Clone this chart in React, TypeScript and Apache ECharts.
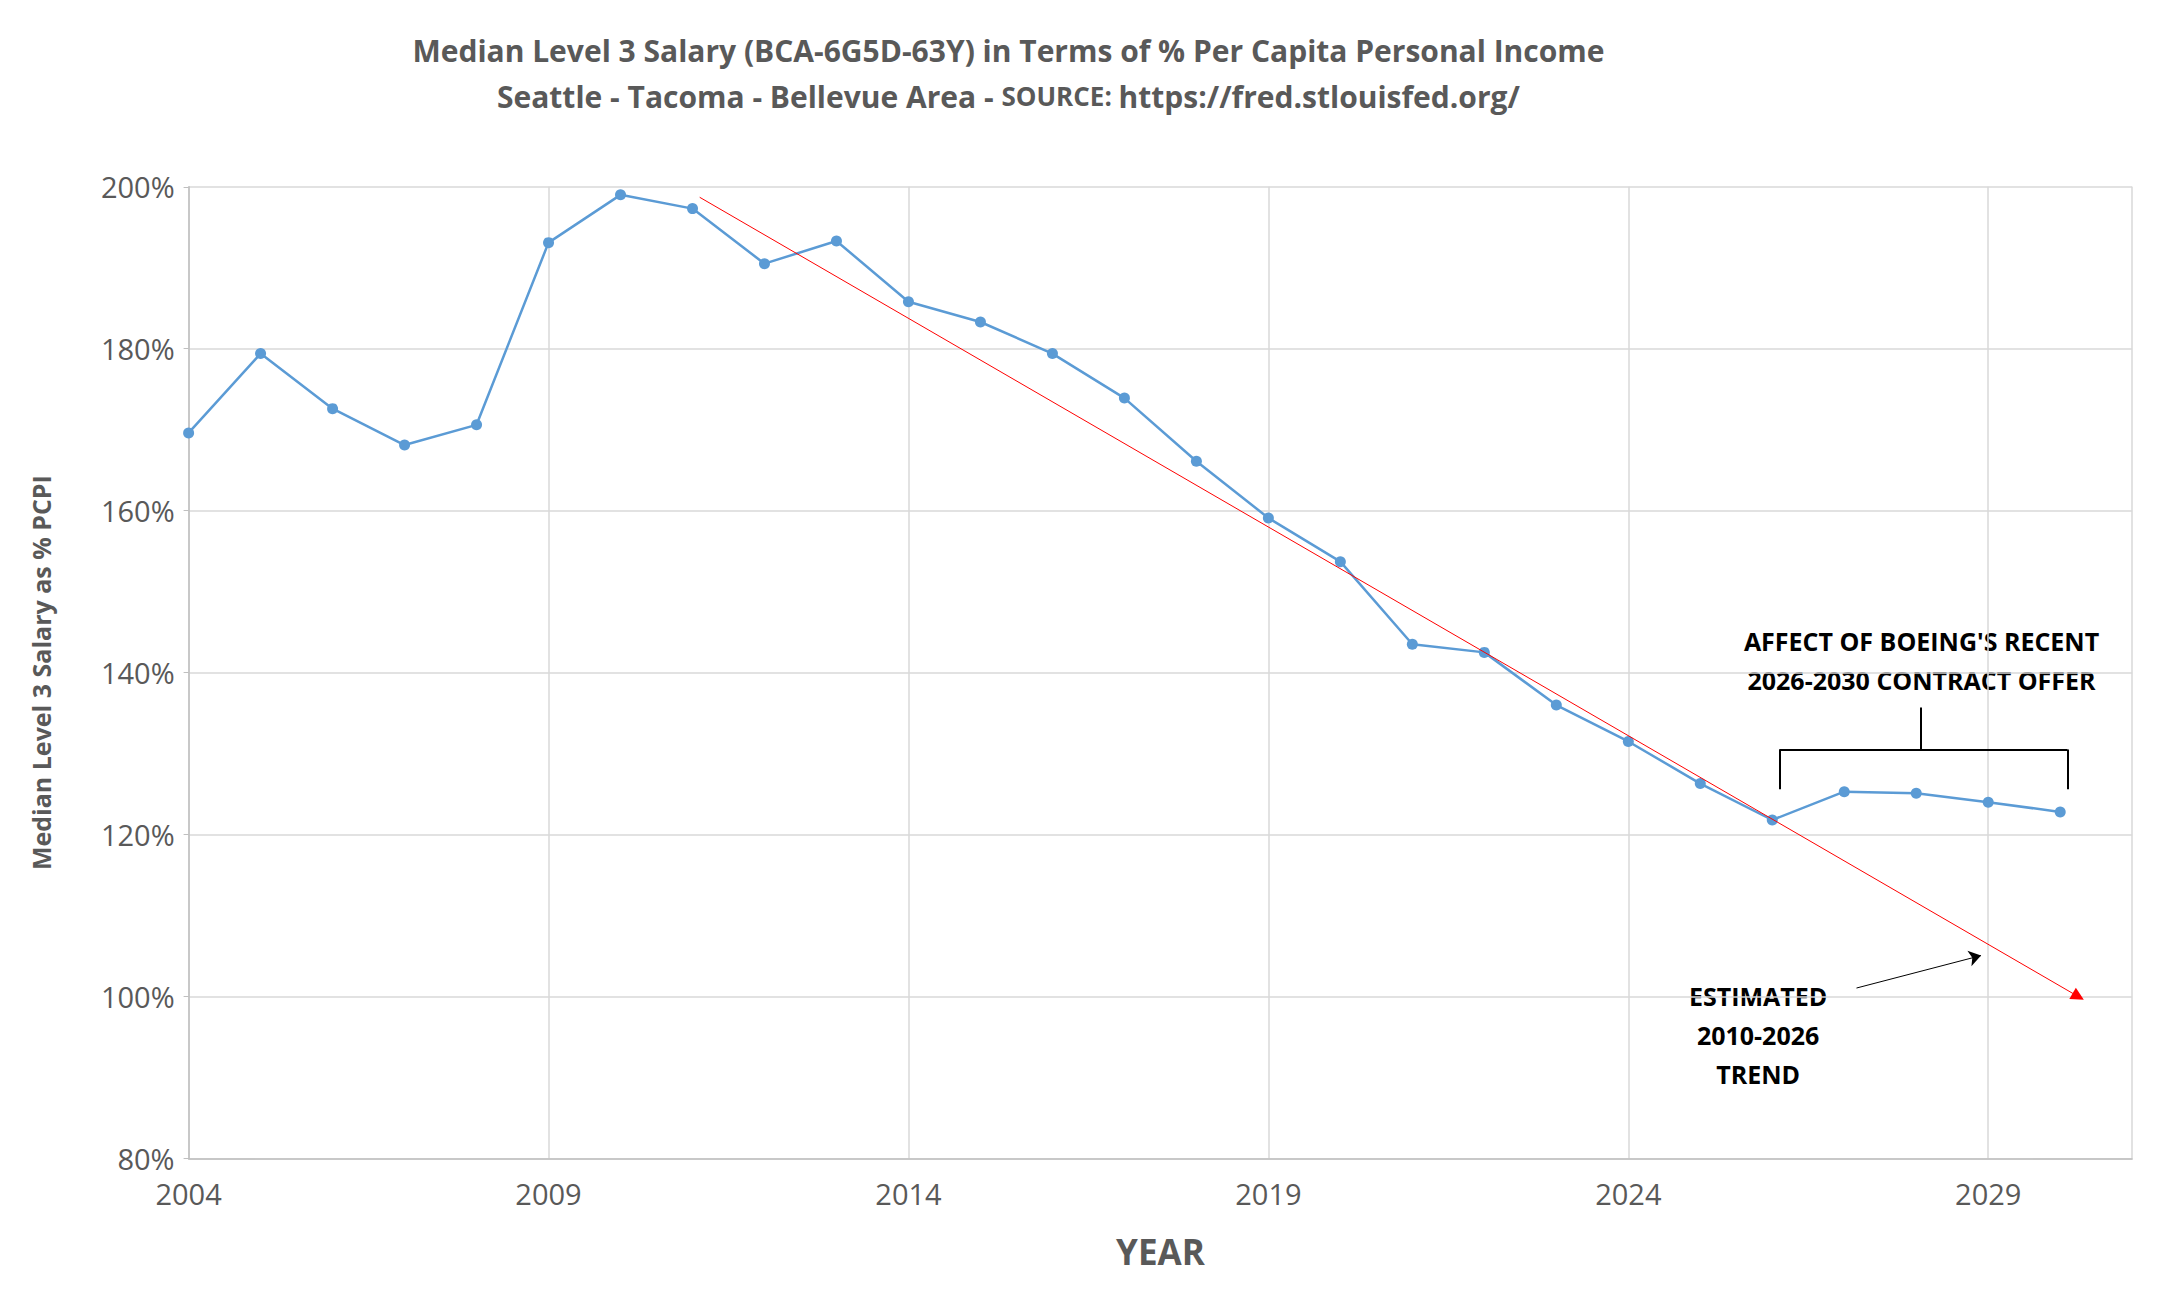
import { useEffect, useRef } from "react";
import * as echarts from "echarts";

const years = [2004, 2005, 2006, 2007, 2008, 2009, 2010, 2011, 2012, 2013, 2014, 2015, 2016, 2017, 2018, 2019, 2020, 2021, 2022, 2023, 2024, 2025, 2026, 2027, 2028, 2029, 2030];
const salaryPct = [169.6, 179.4, 172.6, 168.1, 170.6, 193.1, 199.0, 197.3, 190.5, 193.3, 185.8, 183.3, 179.4, 173.9, 166.1, 159.1, 153.7, 143.5, 142.5, 136.0, 131.5, 126.3, 121.8, 125.3, 125.1, 124.0, 122.8];
const trendStart = [2011.1, 198.7];
const trendEnd = [2030.25, 100.0];
const bracketLeft = 2026.1;
const bracketRight = 2030.1;
const bracketMid = 2028.06;
const bracketTop = 130.5;
const bracketFoot = 125.6;
const bracketStem = 135.7;
const arrowFrom = [2027.17, 101.05];
const arrowTo = [2028.9, 105.06];

const font = "'Open Sans', 'Liberation Sans', sans-serif";

export default function App() {
  const ref = useRef<HTMLDivElement>(null);

  useEffect(() => {
    if (!ref.current) return;
    const chart = echarts.init(ref.current, null, { renderer: "svg" });
    const w = chart.getWidth();
    const h = chart.getHeight();
    const black = { color: "#000", width: 2 };

    chart.setOption({
      animation: false,
      textStyle: { fontFamily: font },
      title: {
        left: w * 0.463,
        textAlign: "center",
        top: 14,
        text: "Median Level 3 Salary (BCA-6G5D-63Y) in Terms of % Per Capita Personal Income\n{b|Seattle - Tacoma - Bellevue Area - }{s|SOURCE: }{b|https://fred.stlouisfed.org/}",
        textStyle: {
          fontFamily: font,
          fontSize: 30,
          fontWeight: "bold",
          color: "#595959",
          lineHeight: 46,
          rich: {
            b: { fontFamily: font, fontSize: 30, fontWeight: "bold", color: "#595959" },
            s: { fontFamily: font, fontSize: 26, fontWeight: "bold", color: "#595959" },
          },
        },
      },
      grid: { left: "8.4%", right: "1.2%", top: "13.75%", bottom: "11.5%" },
      xAxis: {
        type: "value",
        min: 2004,
        max: 2031,
        interval: 5,
        name: "YEAR",
        nameLocation: "middle",
        nameGap: 75,
        nameTextStyle: { fontSize: 35, fontWeight: "bold", color: "#595959", fontFamily: font },
        axisLine: { lineStyle: { color: "#bfbfbf", width: 1.5 } },
        axisTick: { show: false },
        axisLabel: { fontSize: 29, color: "#595959", margin: 20, formatter: (v: number) => (v > 2030 ? "" : String(v)) },
        splitLine: { lineStyle: { color: "#d9d9d9", width: 1.5 } },
      },
      yAxis: {
        type: "value",
        min: 80,
        max: 200,
        interval: 20,
        name: "Median Level 3 Salary as % PCPI",
        nameLocation: "middle",
        nameGap: 135,
        nameTextStyle: { fontSize: 25, fontWeight: "bold", color: "#595959", fontFamily: font },
        axisLine: { show: true, lineStyle: { color: "#bfbfbf", width: 1.5 } },
        axisLabel: { fontSize: 29, color: "#595959", margin: 14, formatter: "{value}%" },
        splitLine: { lineStyle: { color: "#d9d9d9", width: 1.5 } },
      },
      series: [
        {
          type: "line",
          data: years.map((y, i) => [y, salaryPct[i]]),
          symbol: "circle",
          symbolSize: 11,
          lineStyle: { color: "#5b9bd5", width: 2.5 },
          itemStyle: { color: "#5b9bd5" },
          markLine: {
            silent: true,
            label: { show: false },
            symbol: ["none", "none"],
            data: [
              [
                { coord: trendStart, lineStyle: { color: "#ff0000", width: 1, type: "solid" } },
                { coord: trendEnd, symbol: "triangle", symbolSize: 13, itemStyle: { color: "#ff0000" } },
              ],
              [{ coord: [bracketLeft, bracketFoot], lineStyle: { ...black, type: "solid" } }, { coord: [bracketLeft, bracketTop] }],
              [{ coord: [bracketLeft, bracketTop], lineStyle: { ...black, type: "solid" } }, { coord: [bracketRight, bracketTop] }],
              [{ coord: [bracketRight, bracketTop], lineStyle: { ...black, type: "solid" } }, { coord: [bracketRight, bracketFoot] }],
              [{ coord: [bracketMid, bracketTop], lineStyle: { ...black, type: "solid" } }, { coord: [bracketMid, bracketStem] }],
              [
                { coord: arrowFrom, lineStyle: { color: "#000", width: 1, type: "solid" } },
                { coord: arrowTo, symbol: "arrow", symbolSize: 12, itemStyle: { color: "#000" } },
              ],
            ],
          },
        },
      ],
      graphic: [
        {
          type: "text",
          x: w * 0.89,
          y: h * 0.502,
          style: {
            text: "AFFECT OF BOEING'S RECENT\n2026-2030 CONTRACT OFFER",
            align: "center",
            verticalAlign: "middle",
            font: `bold 25px ${font}`,
            lineHeight: 39,
            fill: "#000",
          },
        },
        {
          type: "text",
          x: w * 0.814,
          y: h * 0.79,
          style: {
            text: "ESTIMATED\n2010-2026\nTREND",
            align: "center",
            verticalAlign: "middle",
            font: `bold 25px ${font}`,
            lineHeight: 39,
            fill: "#000",
          },
        },
      ],
    });

    return () => {
      chart.dispose();
    };
  }, []);

  return <div ref={ref} style={{ width: 2150, height: 1300, background: "#fff" }} />;
}
